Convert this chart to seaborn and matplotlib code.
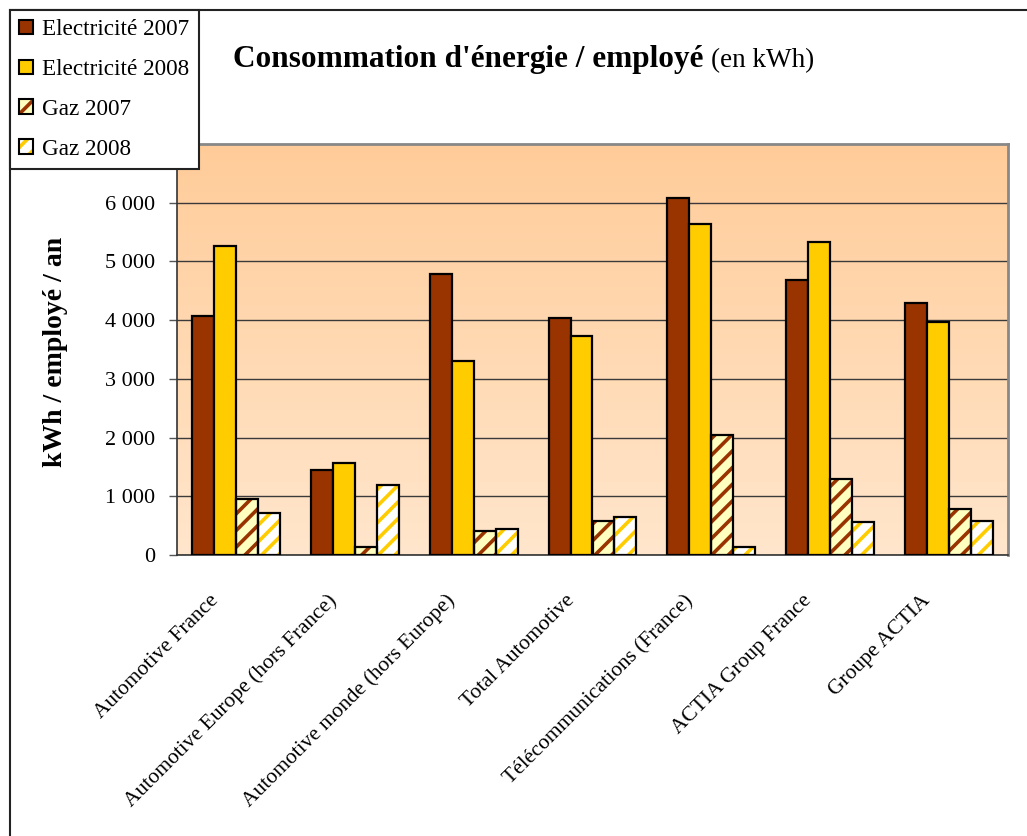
import matplotlib
matplotlib.use("Agg")
import matplotlib.pyplot as plt
from matplotlib.patches import Rectangle, Patch
from matplotlib.legend_handler import HandlerTuple
from matplotlib.transforms import ScaledTranslation
from matplotlib.ticker import FuncFormatter
import seaborn as sns
import pandas as pd
import numpy as np

# Data (kWh / employé / an)
categories = ["Automotive France", "Automotive Europe (hors France)",
              "Automotive monde (hors Europe)", "Total Automotive",
              "Télécommunications (France)", "ACTIA Group France", "Groupe ACTIA"]
series = ["Electricité 2007", "Electricité 2008", "Gaz 2007", "Gaz 2008"]
elec_2007 = [4070, 1440, 4780, 4030, 6080, 4680, 4300]
elec_2008 = [5260, 1575, 3310, 3725, 5645, 5330, 3960]
gaz_2007 = [955, 135, 410, 585, 2050, 1300, 785]
gaz_2008 = [720, 1200, 450, 650, 135, 560, 580]
y_ticks = [0, 1000, 2000, 3000, 4000, 5000, 6000]

face_colors = ["#993300", "#FFCC00", "#FFFFC0", "#FFFFFF"]
stripe_colors = [None, None, "#993300", "#FFCC00"]

sns.set_style("white")
plt.rcParams["font.family"] = ["Liberation Serif", "DejaVu Serif"]
plt.rcParams["hatch.linewidth"] = 2.6
for key in ["text.color", "axes.labelcolor", "xtick.labelcolor", "ytick.labelcolor"]:
    plt.rcParams[key] = "black"

df = pd.DataFrame({
    "site": categories * 4,
    "serie": np.repeat(series, len(categories)),
    "valeur": elec_2007 + elec_2008 + gaz_2007 + gaz_2008,
})

W, H = 1027, 836
fig = plt.figure(figsize=(W / 100, H / 100), dpi=100)
ax = fig.add_axes([177 / W, 1 - 555 / H, (1008 - 177) / W, (555 - 144) / H])

# outer chart frame
fig.add_artist(Rectangle((10 / W, -0.05), 1.2, 1 - 10 / H + 0.05,
                         transform=fig.transFigure, fill=False,
                         ec="#222222", lw=1.5, zorder=0))

# gradient background of the plot area
grad = np.linspace(0, 1, 256).reshape(-1, 1)
cmap = matplotlib.colors.LinearSegmentedColormap.from_list("bg", ["#FFCC99", "#FFE6CC"])
ax.imshow(grad, cmap=cmap, extent=[0, 1, 0, 1], transform=ax.transAxes,
          aspect="auto", zorder=-1)

sns.barplot(data=df, x="site", y="valeur", hue="serie", palette=face_colors,
            saturation=1, width=0.74, gap=0, edgecolor="black", linewidth=1.6,
            legend=False, ax=ax, zorder=3)

# hatched gas bars
for cont, face, stripe in zip(ax.containers, face_colors, stripe_colors):
    if stripe is None:
        continue
    for p in cont:
        ax.add_patch(Rectangle((p.get_x(), p.get_y()), p.get_width(), p.get_height(),
                               facecolor=face, edgecolor=stripe, hatch="//",
                               lw=0, zorder=2.9))
        p.set_facecolor("none")
        p.set_zorder(3.1)

ax.set_xlim(-0.5, len(categories) - 0.5)
ax.set_ylim(0, 7000)
ax.set_yticks(y_ticks)
ax.yaxis.set_major_formatter(FuncFormatter(lambda v, _: f"{int(v):,}".replace(",", " ")))
ax.yaxis.grid(True, color="#3a3a3a", lw=1)
ax.set_axisbelow(True)

ax.set_xticks(np.arange(-0.5, len(categories)), minor=True)
ax.tick_params(axis="x", which="major", length=0, pad=31, labelsize=15.5)
ax.tick_params(axis="x", which="minor", length=6, width=1, color="#555555", direction="out")
ax.tick_params(axis="y", length=6, width=1, color="#555555", direction="out",
               pad=10, labelsize=16, left=True)
ax.set_xticklabels(categories, rotation=45, ha="right", va="center",
                   rotation_mode="anchor")
for lab in ax.get_xticklabels():
    lab.set_transform(lab.get_transform() + ScaledTranslation(-21 / 100, 0, fig.dpi_scale_trans))

ax.set_xlabel("")
ax.set_ylabel("kWh / employé / an", fontsize=20, fontweight="bold")
ax.yaxis.set_label_coords((56 - 177) / (1008 - 177), 0.495)
ax.yaxis.label.set_va("center")

for side in ["top", "right"]:
    ax.spines[side].set_color("#888888")
    ax.spines[side].set_linewidth(2)
for side in ["left", "bottom"]:
    ax.spines[side].set_color("#333333")
    ax.spines[side].set_linewidth(1.2)

# legend
handles = []
for face, stripe in zip(face_colors, stripe_colors):
    if stripe is None:
        handles.append(Patch(facecolor=face, edgecolor="black", lw=1.5))
    else:
        handles.append((Patch(facecolor=face, edgecolor=stripe, hatch="//", lw=0),
                        Patch(facecolor="none", edgecolor="black", lw=1.5)))
fig.legend(handles, series, loc="upper left", bbox_to_anchor=(10 / W, 1 - 10 / H),
           handler_map={tuple: HandlerTuple(ndivide=1, pad=0)},
           fontsize=16.7, frameon=True, fancybox=False, framealpha=1,
           edgecolor="#222222", handlelength=0.6, handleheight=0.6,
           handletextpad=0.4, labelspacing=0.81, borderpad=0.4, borderaxespad=0)
fig.legends[0].get_frame().set_linewidth(1.5)

# title in two parts
t1 = fig.text(233 / W, 1 - 67 / H, "Consommation d'énergie / employé",
              fontsize=22.5, fontweight="bold", va="baseline", ha="left")
fig.canvas.draw()
bb = t1.get_window_extent()
fig.text(bb.x1 / W + 8 / W, 1 - 67 / H, "(en kWh)", fontsize=19.5,
         va="baseline", ha="left")

plt.savefig("out.png", dpi=100)
